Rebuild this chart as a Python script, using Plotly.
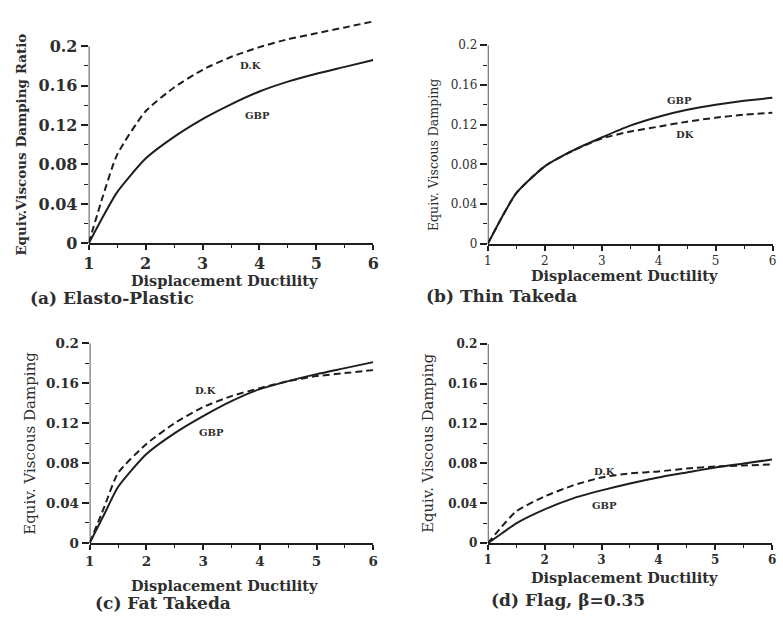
import plotly.graph_objects as go

W, H = 783, 630

ductility = [1, 1.25, 1.5, 2, 2.5, 3, 3.5, 4, 4.5, 5, 5.5, 6]

a_gbp = [0, 0.027, 0.052, 0.086, 0.108, 0.126, 0.141, 0.154, 0.164, 0.172, 0.179, 0.186]
a_dk = [0, 0.048, 0.090, 0.134, 0.158, 0.176, 0.189, 0.199, 0.207, 0.213, 0.219, 0.225]

b_gbp = [0, 0.027, 0.051, 0.078, 0.094, 0.107, 0.119, 0.128, 0.135, 0.140, 0.144, 0.147]
b_dk = [0, 0.027, 0.051, 0.078, 0.094, 0.106, 0.113, 0.118, 0.123, 0.127, 0.130, 0.132]

c_gbp = [0, 0.028, 0.056, 0.089, 0.110, 0.127, 0.142, 0.154, 0.162, 0.169, 0.175, 0.181]
c_dk = [0, 0.035, 0.070, 0.099, 0.120, 0.136, 0.147, 0.155, 0.162, 0.167, 0.170, 0.173]

d_gbp = [0, 0.010, 0.020, 0.034, 0.045, 0.053, 0.060, 0.066, 0.071, 0.076, 0.080, 0.084]
d_dk = [0, 0.017, 0.032, 0.047, 0.058, 0.066, 0.070, 0.072, 0.075, 0.077, 0.078, 0.079]

x_ticks = [1, 2, 3, 4, 5, 6]
x_minor = [1.5, 2.5, 3.5, 4.5, 5.5]
y_ticks = [0, 0.04, 0.08, 0.12, 0.16, 0.2]
y_ticktext = ["0", "0.04", "0.08", "0.12", "0.16", "0.2"]
y_minor = [0.02, 0.06, 0.10, 0.14, 0.18]

panels = [
    dict(gbp=a_gbp, dk=a_dk, ytitle="Equiv.Viscous Damping Ratio", caption="(a) Elasto-Plastic",
         dk_lbl="D.K", dk_pos=(3.84, 0.180), gbp_pos=(3.96, 0.130),
         xdom=[84 / W, 373 / W], ydom=[1 - 242.3 / H, 1 - 8.8 / H], yr=[0, 0.23],
         tfs=16, tfw="bold", ytfs=13.5, ytw="bold",
         xt=(222, 281), cap=(22, 299), yt=(15, 141)),
    dict(gbp=b_gbp, dk=b_dk, ytitle="Equiv. Viscous Damping", caption="(b) Thin Takeda",
         dk_lbl="DK", dk_pos=(4.46, 0.110), gbp_pos=(4.37, 0.1445),
         xdom=[489.3 / W, 778.5 / W], ydom=[1 - 242.7 / H, 1 - 38.3 / H], yr=[0, 0.2],
         tfs=12, tfw="normal", ytfs=12.5, ytw="normal",
         xt=(628, 275), cap=(424, 296), yt=(434, 151)),
    dict(gbp=c_gbp, dk=c_dk, ytitle="Equiv. Viscous Damping", caption="(c) Fat Takeda",
         dk_lbl="D.K", dk_pos=(3.05, 0.153), gbp_pos=(3.14, 0.1106),
         xdom=[85 / W, 373 / W], ydom=[1 - 550.7 / H, 1 - 345 / H], yr=[0, 0.2],
         tfs=13.5, tfw="bold", ytfs=15, ytw="normal",
         xt=(222, 594), cap=(88, 613), yt=(25, 448)),
    dict(gbp=d_gbp, dk=d_dk, ytitle="Equiv. Viscous Damping", caption="(d) Flag, \u03b2=0.35",
         dk_lbl="D.K", dk_pos=(3.06, 0.072), gbp_pos=(3.06, 0.038),
         xdom=[489.3 / W, 778 / W], ydom=[1 - 551 / H, 1 - 345.7 / H], yr=[0, 0.2],
         tfs=12, tfw="bold", ytfs=14.7, ytw="normal",
         xt=(628, 586), cap=(491, 609), yt=(428, 448)),
]

FONT = "DejaVu Serif"
TXT = "#2e2e2e"
LINE = "#1e1e1e"

fig = go.Figure()
layout = dict(
    width=W, height=H, margin=dict(l=0, r=0, t=0, b=0),
    paper_bgcolor="white", plot_bgcolor="white", showlegend=False,
    font=dict(family=FONT, color=TXT),
)
annotations = []
shapes = []

for i, p in enumerate(panels):
    n = "" if i == 0 else str(i + 1)
    xa, ya = "x" + n, "y" + n
    fig.add_trace(go.Scatter(x=ductility, y=p["gbp"], mode="lines", xaxis=xa, yaxis=ya,
                             line=dict(color=LINE, width=2.0, shape="spline", smoothing=0.6)))
    fig.add_trace(go.Scatter(x=ductility, y=p["dk"], mode="lines", xaxis=xa, yaxis=ya,
                             line=dict(color=LINE, width=2.0, dash="7px,4px", shape="spline", smoothing=0.6)))
    layout["xaxis" + n] = dict(
        domain=p["xdom"], range=[1, 6], anchor=ya, showgrid=False, zeroline=False,
        showline=True, linecolor=LINE, linewidth=1.5,
        tickmode="array", tickvals=x_ticks, ticks="outside", ticklen=5, tickwidth=1.5,
        tickcolor=LINE,
        tickfont=dict(family=FONT, size=p["tfs"], color=TXT, weight=p["tfw"]),
        minor=dict(tickmode="array", tickvals=x_minor, ticks="outside", ticklen=3,
                   tickwidth=1.2, tickcolor=LINE, showgrid=False),
        fixedrange=True,
    )
    layout["yaxis" + n] = dict(
        domain=p["ydom"], range=p["yr"], anchor=xa, showgrid=False, zeroline=False,
        showline=False,
        tickmode="array", tickvals=y_ticks, ticktext=y_ticktext, ticks="outside",
        ticklen=7, tickwidth=1.5, tickcolor=LINE,
        tickfont=dict(family=FONT, size=p["tfs"], color=TXT, weight=p["tfw"]),
        minor=dict(tickmode="array", tickvals=y_minor, ticks="outside", ticklen=4,
                   tickwidth=1.2, tickcolor=LINE, showgrid=False),
        fixedrange=True,
    )
    shapes.append(dict(type="line", xref=xa, yref=ya, x0=1, x1=1, y0=0, y1=0.2,
                       line=dict(color=LINE, width=1.5)))
    annotations.append(dict(xref=xa, yref=ya, x=p["dk_pos"][0], y=p["dk_pos"][1],
                            text=p["dk_lbl"], showarrow=False,
                            font=dict(family=FONT, size=10, color=TXT, weight="bold")))
    annotations.append(dict(xref=xa, yref=ya, x=p["gbp_pos"][0], y=p["gbp_pos"][1],
                            text="GBP", showarrow=False,
                            font=dict(family=FONT, size=10, color=TXT, weight="bold")))
    annotations.append(dict(xref="paper", yref="paper", x=p["xt"][0] / W, y=1 - p["xt"][1] / H,
                            text="Displacement Ductility", showarrow=False,
                            xanchor="center", yanchor="middle",
                            font=dict(family=FONT, size=14.5, color=TXT, weight="bold")))
    annotations.append(dict(xref="paper", yref="paper", x=p["cap"][0] / W, y=1 - p["cap"][1] / H,
                            text=p["caption"], showarrow=False,
                            xanchor="left", yanchor="middle",
                            font=dict(family=FONT, size=17, color=TXT, weight="bold")))
    annotations.append(dict(xref="paper", yref="paper", x=p["yt"][0] / W, y=1 - p["yt"][1] / H,
                            text=p["ytitle"], showarrow=False, textangle=-90,
                            xanchor="center", yanchor="middle",
                            font=dict(family=FONT, size=p["ytfs"], color=TXT, weight=p["ytw"])))

layout["annotations"] = annotations
layout["shapes"] = shapes
fig.update_layout(**layout)
fig.write_html("out.html")
